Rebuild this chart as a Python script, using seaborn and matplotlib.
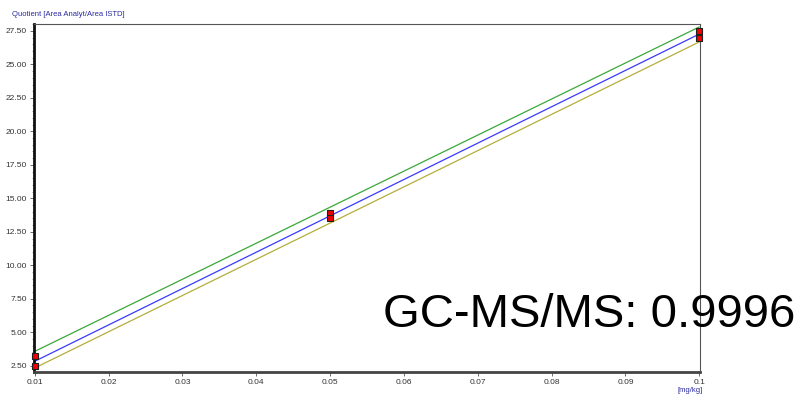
import numpy as np
import pandas as pd
import matplotlib
matplotlib.use("Agg")
import matplotlib.pyplot as plt
from matplotlib import font_manager
from matplotlib.ticker import MultipleLocator, FixedLocator
import seaborn as sns

# Calibration standards: concentration [mg/kg] and measured area quotient
conc = [0.01, 0.01, 0.05, 0.05, 0.1, 0.1]
quotient = [3.19, 2.45, 13.90, 13.52, 27.52, 27.00]

# Confidence band limits at the calibration range ends
band_x = [0.01, 0.1]
band_upper = [3.57, 27.80]
band_lower = [2.33, 26.68]

x_ticks = [0.01, 0.02, 0.03, 0.04, 0.05, 0.06, 0.07, 0.08, 0.09, 0.1]
x_tick_labels = ["0.01", "0.02", "0.03", "0.04", "0.05", "0.06", "0.07", "0.08", "0.09", "0.1"]
y_ticks = [2.5, 5.0, 7.5, 10.0, 12.5, 15.0, 17.5, 20.0, 22.5, 25.0, 27.5]

label_text = "GC-MS/MS: 0.9996"

sns.set_theme(style="white")
plt.rcParams["font.family"] = ["Liberation Sans", "DejaVu Sans"]

# Narrow face for the big annotation, if available
try:
    font_manager.findfont("Liberation Sans Narrow", fallback_to_default=False)
    big_family = ["Liberation Sans Narrow"]
    big_size = 42
except Exception:
    big_family = ["Liberation Sans"]
    big_size = 34

points = pd.DataFrame({"conc": conc, "quotient": quotient})
slope, intercept = np.polyfit(conc, quotient, 1)
fit = pd.DataFrame({"conc": band_x,
                    "quotient": [slope * v + intercept for v in band_x]})
upper = pd.DataFrame({"conc": band_x, "quotient": band_upper})
lower = pd.DataFrame({"conc": band_x, "quotient": band_lower})

fig = plt.figure(figsize=(8.02, 3.95), dpi=100)
ax = fig.add_axes([34 / 802, 1 - 372 / 395, 666 / 802, 348 / 395])

sns.lineplot(data=upper, x="conc", y="quotient", ax=ax, color="#3aa83a", lw=0.9)
sns.lineplot(data=fit, x="conc", y="quotient", ax=ax, color="#3a3aff", lw=0.9)
sns.lineplot(data=lower, x="conc", y="quotient", ax=ax, color="#b5ad3a", lw=0.9)
sns.scatterplot(data=points, x="conc", y="quotient", ax=ax, marker="s", s=24,
                color="#ee0000", edgecolor="#202020", linewidth=0.8, zorder=5,
                clip_on=False)

ax.set_xlim(0.0099, 0.1001)
ax.set_ylim(2.03, 28.02)
ax.xaxis.set_major_locator(FixedLocator(x_ticks))
ax.set_xticklabels(x_tick_labels)
ax.yaxis.set_major_locator(FixedLocator(y_ticks))
ax.set_yticklabels([f"{v:.2f}" for v in y_ticks])
ax.yaxis.set_minor_locator(MultipleLocator(0.5))

ax.tick_params(axis="both", which="major", direction="out", length=3, width=0.6,
               color="#555555", labelsize=6, labelcolor="#333333", pad=2,
               bottom=True, left=True)
ax.tick_params(axis="y", which="minor", direction="out", length=1.5, width=0.5,
               color="#777777", left=True)

for side in ("top", "right"):
    ax.spines[side].set_color("#555555")
    ax.spines[side].set_linewidth(0.8)
ax.spines["left"].set_color("#111111")
ax.spines["left"].set_linewidth(2.0)
ax.spines["bottom"].set_color("#444444")
ax.spines["bottom"].set_linewidth(2.0)

ax.set_xlabel("")
ax.set_ylabel("")
fig.text(12 / 802, 1 - 14 / 395, "Quotient [Area Analyt/Area ISTD]",
         fontsize=5.5, color="#2a2aa0", va="center", ha="left")
fig.text(690 / 802, 1 - 390 / 395, "[mg/kg]",
         fontsize=5.5, color="#2a2aa0", va="center", ha="center")

fig.text(383 / 802, 1 - 327 / 395, label_text, fontsize=big_size, color="black",
         family=big_family, ha="left", va="baseline")

fig.savefig("out.png", dpi=100)
